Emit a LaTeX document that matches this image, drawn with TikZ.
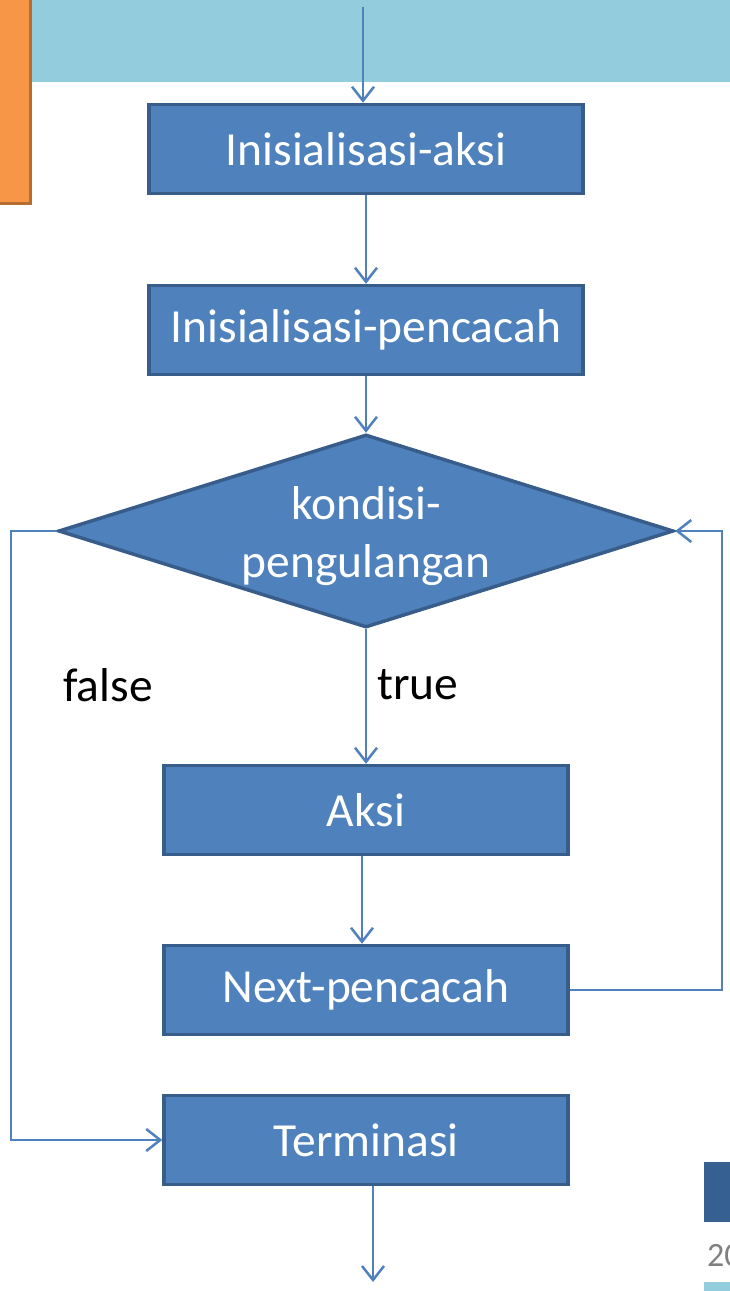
\documentclass[tikz,border=0pt]{standalone}
\usepackage{fontspec}
\setmainfont{Carlito}
\usetikzlibrary{shapes.geometric,arrows.meta}
\definecolor{isiBiru}{HTML}{4F81BD}
\definecolor{tepiBiru}{HTML}{385D8A}
\definecolor{pitaBiru}{HTML}{93CDDD}
\definecolor{isiJingga}{HTML}{F79646}
\definecolor{tepiJingga}{HTML}{B66D31}
\definecolor{biruTua}{HTML}{376092}
\begin{document}
\begin{tikzpicture}[x=1pt, y=-1pt,
	kotak/.style={draw=tepiBiru, fill=isiBiru, line width=3.5pt, text=white,
		font=\fontsize{47.5}{58}\selectfont, inner sep=0pt},
	panah/.style={draw=isiBiru, line width=2.5pt,
		-{Straight Barb[length=14pt, width=22pt, line width=2.5pt]}},
	label/.style={font=\fontsize{47.5}{58}\selectfont, inner sep=0pt}]
				\useasboundingbox (0,0) rectangle (730,1291);
				\clip (0,0) rectangle (730,1291);

				% latar slide
				\fill[pitaBiru] (0,0) rectangle (730,82);
				\draw[fill=isiJingga, draw=tepiJingga, line width=3pt] (-10,-10) rectangle (30,203);
				\fill[biruTua] (704,1162) rectangle (740,1222);
				\fill[pitaBiru] (704,1282) rectangle (740,1295);
				\node[anchor=base west, text=gray, font=\fontsize{34}{40}\selectfont, inner sep=0pt] (tahun) at (707,1266) {20};

				% kotak inisialisasi
				\node[kotak, minimum width=434pt, minimum height=89pt] (initAksi) at (366,149) {Inisialisasi-aksi};
				\node[kotak, minimum width=434pt, minimum height=89pt] (initPencacah) at (366,330) {Inisialisasi-pencacah};

				% belah ketupat kondisi
				\node[kotak, diamond, aspect=3.17, minimum width=615pt, minimum height=193pt, align=center] (kondisi) at (366,531) {};
				\node[font=\fontsize{47.5}{58}\selectfont, text=white, align=center, inner sep=0pt] (teksKondisi) at (366,536) {kondisi-\\pengulangan};

				% kotak badan pengulangan
				\node[kotak, minimum width=404pt, minimum height=89pt] (aksi) at (366,810) {Aksi};
				\node[kotak, minimum width=404pt, minimum height=89pt] (next) at (366,990) {Next-pencacah};
				\node[kotak, minimum width=404pt, minimum height=89pt] (terminasi) at (366,1140) {Terminasi};

				% label cabang
				\node[label] (lblFalse) at (108,685) {false};
				\node[label] (lblTrue) at (418,685) {true};

				% titik bantu
				\coordinate (awal) at (363,7);
				\coordinate (akhir) at (373,1282);
				\coordinate (belokKanan) at (722,531);
				\coordinate (belokKiri) at (11,531);

				% panah alur utama
				\draw[panah] (awal) -- (initAksi.north -| awal);
				\draw[panah] (initAksi) -- (initPencacah);
				\draw[panah] (initPencacah) -- (kondisi);
				\draw[panah] (kondisi) -- (aksi);
				\draw[panah] ([xshift=-4pt]aksi.south) -- ([xshift=-4pt]next.north);
				\draw[panah] (terminasi.south -| akhir) -- (akhir);

				% panah kembali ke kondisi
				\draw[panah] (next.east) -| (belokKanan) -- (kondisi.east);

				% panah false ke terminasi
				\draw[panah] (kondisi.west) -- (belokKiri) |- (terminasi.west);
\end{tikzpicture}
\end{document}
